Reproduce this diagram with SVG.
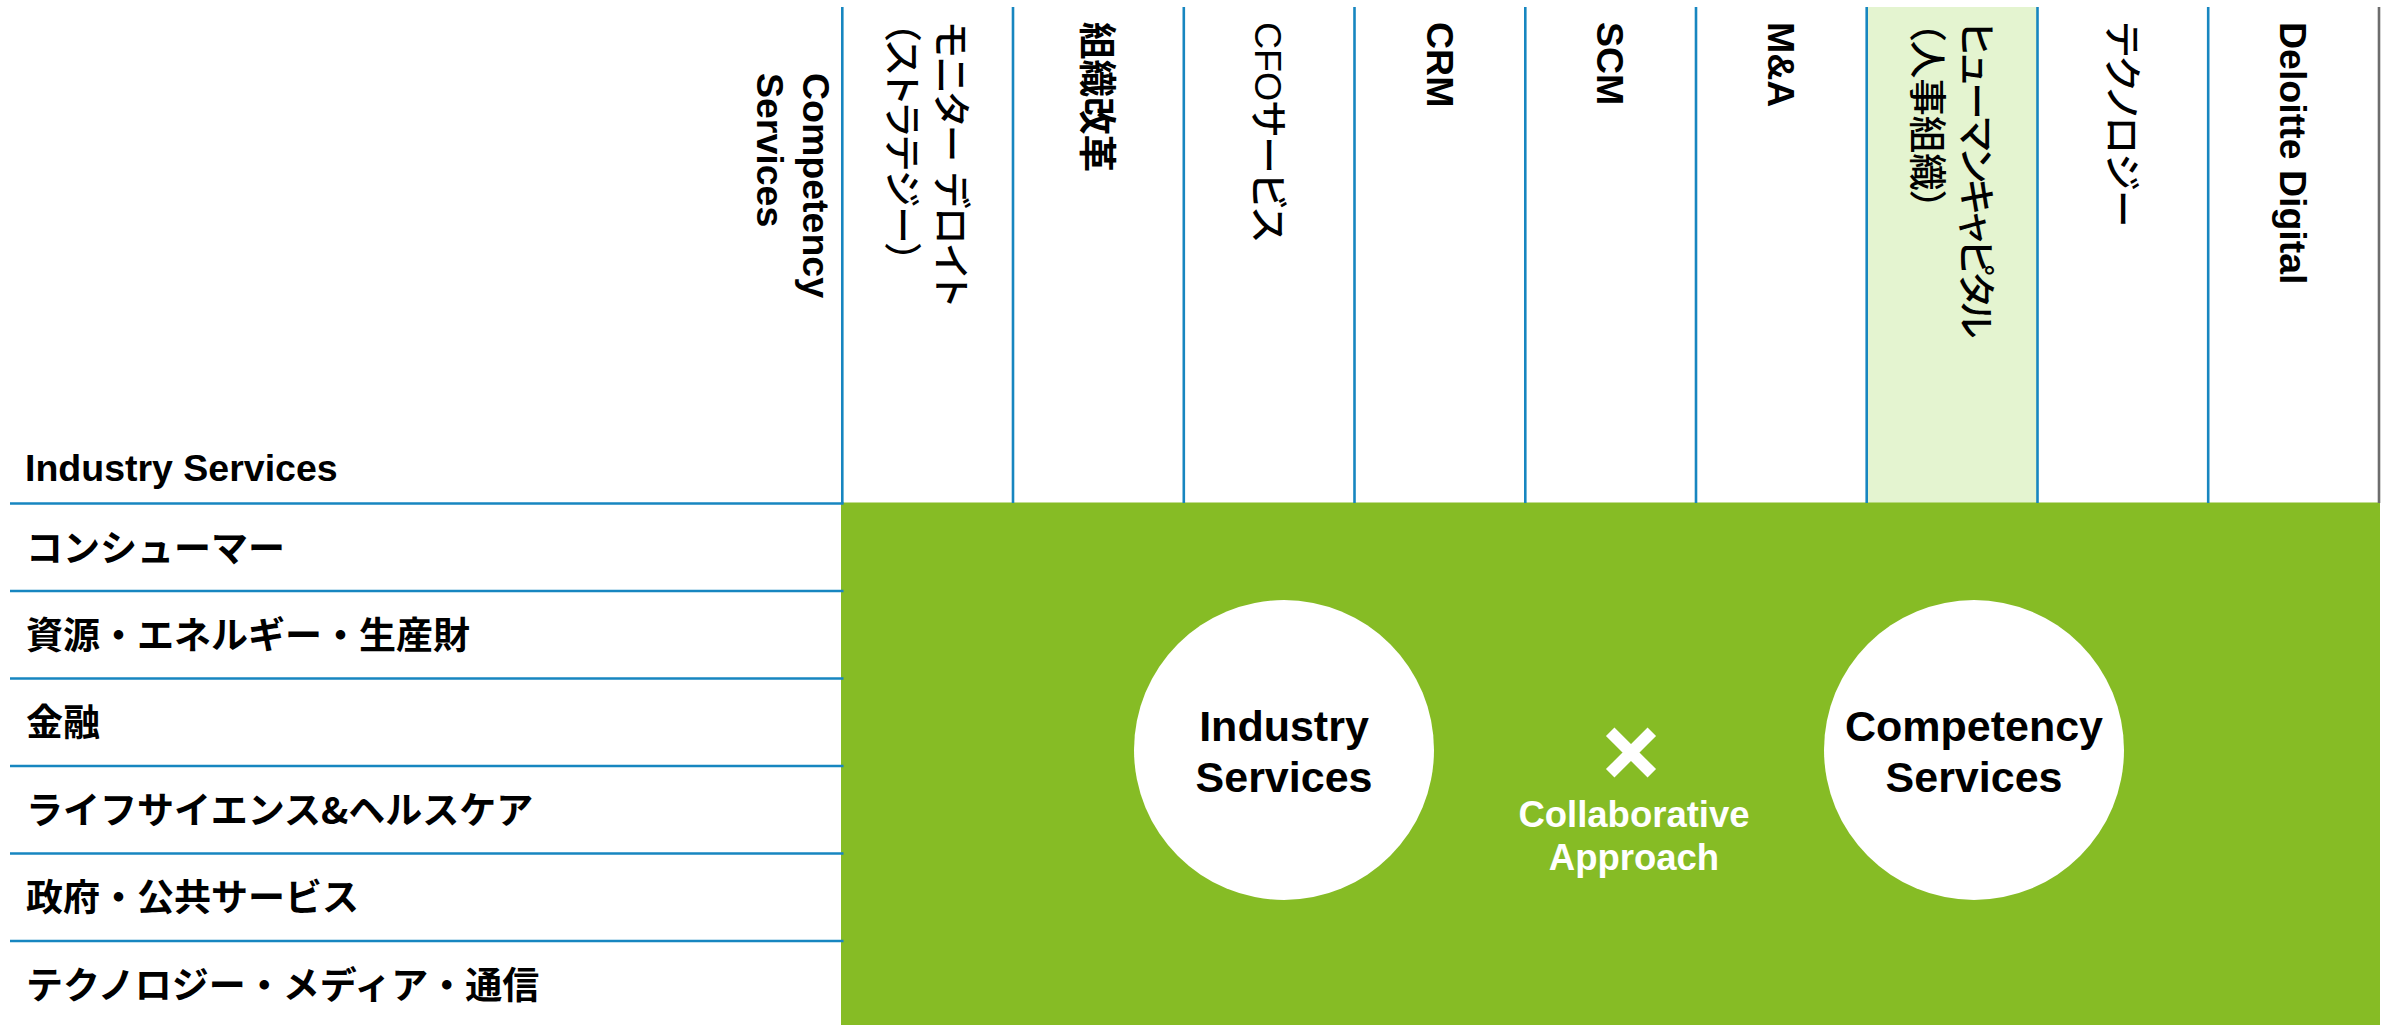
<svg xmlns="http://www.w3.org/2000/svg" width="2395" height="1025" viewBox="0 0 2395 1025">
  <style>
    .t{font-family:"Liberation Sans","Noto Sans CJK JP",sans-serif;font-size:37.5px;fill:#000}
    .jp{font-family:"Noto Sans CJK JP","Liberation Sans",sans-serif;font-size:37px;font-weight:700;fill:#000}
    .b{font-weight:700}
    .r{font-weight:500}
    .p{font-feature-settings:"palt"}
    .rule{stroke:#1786C0;stroke-width:2.6;fill:none}
    .edge{stroke:#6D6D6D;stroke-width:2.6;fill:none}
    .circ{fill:#FFFFFF}
    .ct{font-family:"Liberation Sans",sans-serif;font-size:43px;font-weight:700;fill:#000;text-anchor:middle}
    .wt{font-family:"Liberation Sans",sans-serif;font-size:36.5px;font-weight:700;fill:#FFFFFF;text-anchor:middle}
  </style>

  <rect x="0" y="0" width="2395" height="1025" fill="#FFFFFF"/>

  <!-- highlighted competency column -->
  <rect id="highlight" x="1866.7" y="7" width="170.8" height="496" fill="#E4F4D0"/>

  <!-- green matrix body -->
  <rect id="matrix" x="841" y="502.5" width="1539" height="523" fill="#86BC25"/>

  <!-- grid rules -->
  <g id="grid">
    <g class="rule">
      <line x1="842.3" y1="7" x2="842.3" y2="503.5"/>
      <line x1="1013" y1="7" x2="1013" y2="503"/>
      <line x1="1183.8" y1="7" x2="1183.8" y2="503"/>
      <line x1="1354.5" y1="7" x2="1354.5" y2="503"/>
      <line x1="1525.3" y1="7" x2="1525.3" y2="503"/>
      <line x1="1696" y1="7" x2="1696" y2="503"/>
      <line x1="1866.7" y1="7" x2="1866.7" y2="503"/>
      <line x1="2037.5" y1="7" x2="2037.5" y2="503"/>
      <line x1="2208.2" y1="7" x2="2208.2" y2="503"/>
      <line x1="10" y1="503.5" x2="843.5" y2="503.5"/>
      <line x1="10" y1="591" x2="843.5" y2="591"/>
      <line x1="10" y1="678.5" x2="843.5" y2="678.5"/>
      <line x1="10" y1="766" x2="843.5" y2="766"/>
      <line x1="10" y1="853.5" x2="843.5" y2="853.5"/>
      <line x1="10" y1="941" x2="843.5" y2="941"/>
    </g>
    <line class="edge" x1="2379" y1="7" x2="2379" y2="503"/>
  </g>

  <!-- axis titles -->
  <g id="axis-competency">
    <text class="t b" transform="translate(803,73) rotate(90)"><tspan x="0" y="0">Competency</tspan><tspan x="0" dy="46">Services</tspan></text>
  </g>
  <g id="axis-industry">
    <text class="t b" x="25" y="481">Industry Services</text>
  </g>

  <!-- competency column headers -->
  <g id="col-monitor">
    <text class="t r p" transform="translate(938,22) rotate(90)"><tspan x="0" y="0">モニター デロイト</tspan><tspan x="0" dy="49">（ストラテジー）</tspan></text>
  </g>
  <g id="col-org">
    <text class="t b p" transform="translate(1084.4,22) rotate(90)">組織改革</text>
  </g>
  <g id="col-cfo">
    <text class="t r p" transform="translate(1255.2,22) rotate(90)">CFOサービス</text>
  </g>
  <g id="col-crm">
    <text class="t b" transform="translate(1426.5,22) rotate(90)">CRM</text>
  </g>
  <g id="col-scm">
    <text class="t b" transform="translate(1597.3,22) rotate(90)">SCM</text>
  </g>
  <g id="col-ma">
    <text class="t b" transform="translate(1768,22) rotate(90)">M&amp;A</text>
  </g>
  <g id="col-hc">
    <text class="t r p" transform="translate(1962.6,22) rotate(90)"><tspan x="0" y="0" letter-spacing="-2.4">ヒューマンキャピタル</tspan><tspan x="0" dy="49">（人事組織）</tspan></text>
  </g>
  <g id="col-tech">
    <text class="t r p" transform="translate(2108.9,22) rotate(90)">テクノロジー</text>
  </g>
  <g id="col-digital">
    <text class="t b" transform="translate(2280.2,22) rotate(90)">Deloitte Digital</text>
  </g>

  <!-- industry row labels -->
  <g id="row-consumer"><text class="jp" x="26" y="561.5">コンシューマー</text></g>
  <g id="row-energy"><text class="jp" x="26" y="648.9">資源・エネルギー・生産財</text></g>
  <g id="row-finance"><text class="jp" x="26" y="736.3">金融</text></g>
  <g id="row-lshc"><text class="jp" x="26" y="823.7">ライフサイエンス&amp;ヘルスケア</text></g>
  <g id="row-public"><text class="jp" x="26" y="911.1">政府・公共サービス</text></g>
  <g id="row-tmt"><text class="jp" x="26" y="998.5">テクノロジー・メディア・通信</text></g>

  <!-- collaboration graphic -->
  <g id="node-industry">
    <circle class="circ" cx="1284" cy="750" r="150"/>
    <text class="ct" x="1284" y="741">Industry</text>
    <text class="ct" x="1284" y="792">Services</text>
  </g>
  <g id="node-competency">
    <circle class="circ" cx="1974" cy="750" r="150"/>
    <text class="ct" x="1974" y="741">Competency</text>
    <text class="ct" x="1974" y="792">Services</text>
  </g>
  <g id="node-approach">
    <path d="M1610.2,731.7 L1651.8,773.3 M1651.8,731.7 L1610.2,773.3" stroke="#FFFFFF" stroke-width="12" fill="none"/>
    <text class="wt" x="1634" y="826.7">Collaborative</text>
    <text class="wt" x="1634" y="870">Approach</text>
  </g>
</svg>
